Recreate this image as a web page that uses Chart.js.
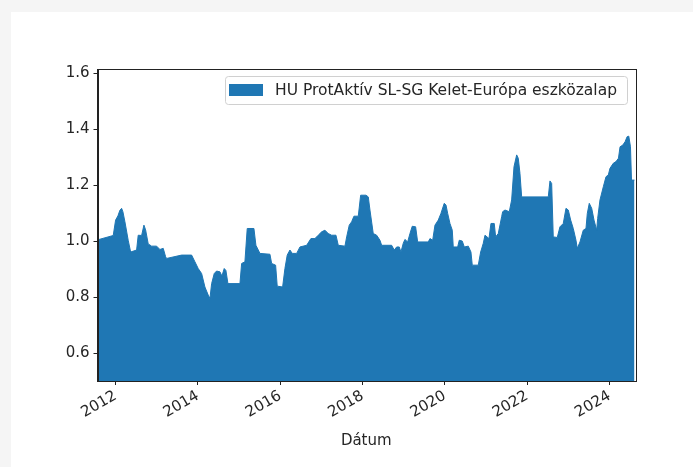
<!DOCTYPE html>
<html lang="hu">
<head>
    <meta charset="UTF-8">
    <title>HU ProtAktív SL-SG Kelet-Európa eszközalap</title>
    <script src="https://cdn.jsdelivr.net/npm/chart.js"></script>
    <style>
        body {
            margin: 0;
            background-color: #f5f5f5;
            font-family: "DejaVu Sans", sans-serif;
        }
        .card {
            position: absolute;
            left: 11px;
            top: 12px;
            right: 0;
            bottom: 0;
            background: #fff;
        }
        #fundChart {
            position: absolute;
            left: 0;
            top: 0;
        }
    </style>
</head>
<body>
    <div class="card"></div>
    <canvas id="fundChart" width="693" height="467"></canvas>

    <script>
        const seriesLabel = 'HU ProtAktív SL-SG Kelet-Európa eszközalap';

        // dates as decimal years
        const dates = [
            2011.577, 2011.942, 2012.000, 2012.056, 2012.104, 2012.146, 2012.177, 2012.226, 2012.306, 2012.365,
            2012.510, 2012.549, 2012.632, 2012.688, 2012.729, 2012.792, 2012.875, 2012.996, 2013.077, 2013.157,
            2013.215, 2013.239, 2013.604, 2013.847, 2013.927, 2014.007, 2014.090, 2014.170, 2014.250, 2014.292,
            2014.333, 2014.396, 2014.454, 2014.535, 2014.583, 2014.639, 2014.680, 2014.729, 2015.021, 2015.062,
            2015.142, 2015.198, 2015.361, 2015.409, 2015.507, 2015.750, 2015.791, 2015.888, 2015.927, 2016.058,
            2016.114, 2016.170, 2016.236, 2016.292, 2016.399, 2016.479, 2016.642, 2016.746, 2016.843, 2016.923,
            2017.006, 2017.086, 2017.166, 2017.249, 2017.354, 2017.410, 2017.572, 2017.614, 2017.677, 2017.735,
            2017.791, 2017.896, 2017.954, 2018.083, 2018.139, 2018.180, 2018.260, 2018.343, 2018.423, 2018.464,
            2018.707, 2018.770, 2018.829, 2018.892, 2018.933, 2018.989, 2019.030, 2019.096, 2019.152, 2019.208,
            2019.290, 2019.339, 2019.597, 2019.638, 2019.704, 2019.760, 2019.840, 2019.905, 2019.985, 2020.027,
            2020.068, 2020.124, 2020.180, 2020.204, 2020.311, 2020.350, 2020.423, 2020.472, 2020.569, 2020.634,
            2020.666, 2020.812, 2020.870, 2020.933, 2020.975, 2021.072, 2021.120, 2021.200, 2021.234, 2021.298,
            2021.380, 2021.404, 2021.461, 2021.565, 2021.623, 2021.680, 2021.745, 2021.784, 2021.825, 2021.866,
            2022.513, 2022.554, 2022.595, 2022.634, 2022.731, 2022.797, 2022.877, 2022.943, 2022.999, 2023.057,
            2023.120, 2023.186, 2023.218, 2023.283, 2023.363, 2023.429, 2023.461, 2023.509, 2023.568, 2023.624,
            2023.689, 2023.713, 2023.769, 2023.850, 2023.915, 2023.971, 2024.012, 2024.092, 2024.158, 2024.218,
            2024.257, 2024.323, 2024.379, 2024.428, 2024.469, 2024.510, 2024.535, 2024.607
        ];

        const values = [
            1.005, 1.020, 1.075, 1.090, 1.110, 1.117, 1.105, 1.069, 1.003, 0.961,
            0.968, 1.021, 1.020, 1.057, 1.040, 0.990, 0.982, 0.982, 0.970, 0.974,
            0.944, 0.938, 0.950, 0.950, 0.926, 0.902, 0.884, 0.836, 0.807, 0.795,
            0.848, 0.884, 0.893, 0.890, 0.875, 0.902, 0.895, 0.848, 0.848, 0.920,
            0.926, 1.045, 1.045, 0.985, 0.956, 0.953, 0.920, 0.914, 0.839, 0.836,
            0.902, 0.950, 0.968, 0.956, 0.956, 0.979, 0.985, 1.009, 1.009, 1.021,
            1.033, 1.039, 1.027, 1.021, 1.021, 0.985, 0.982, 1.015, 1.057, 1.069,
            1.089, 1.089, 1.164, 1.164, 1.158, 1.111, 1.027, 1.021, 1.003, 0.985,
            0.985, 0.968, 0.979, 0.979, 0.961, 0.992, 1.006, 0.997, 1.027, 1.053,
            1.051, 0.997, 0.997, 1.009, 1.003, 1.057, 1.075, 1.099, 1.135, 1.129,
            1.099, 1.063, 1.039, 0.979, 0.979, 1.003, 1.000, 0.979, 0.982, 0.961,
            0.914, 0.914, 0.961, 0.992, 1.021, 1.009, 1.063, 1.063, 1.015, 1.027,
            1.087, 1.105, 1.111, 1.105, 1.147, 1.266, 1.308, 1.296, 1.242, 1.158,
            1.158, 1.215, 1.206, 1.015, 1.013, 1.051, 1.063, 1.117, 1.111, 1.075,
            1.045, 1.003, 0.974, 0.997, 1.039, 1.045, 1.099, 1.135, 1.117, 1.075,
            1.039, 1.081, 1.147, 1.194, 1.230, 1.236, 1.260, 1.278, 1.284, 1.296,
            1.337, 1.343, 1.355, 1.373, 1.375, 1.337, 1.218, 1.218
        ];

        const xTicks = [2012, 2014, 2016, 2018, 2020, 2022, 2024];
        const yTicks = [0.6, 0.8, 1.0, 1.2, 1.4, 1.6];

        const textColor = '#262626';
        const tickFont = { family: 'DejaVu Sans', size: 15 };

        // matplotlib style frame around the plot
        const framePlugin = {
            id: 'frame',
            afterDatasetsDraw(chart) {
                const a = chart.chartArea;
                const c = chart.ctx;
                c.save();
                c.strokeStyle = '#222';
                c.lineWidth = 1;
                c.strokeRect(Math.round(a.left) + 0.5, Math.round(a.top) + 0.5,
                    Math.round(a.right - a.left), Math.round(a.bottom - a.top));
                c.restore();
            }
        };

        // legend inside the axes, upper right
        const boxLegend = {
            id: 'boxLegend',
            afterDraw(chart) {
                const a = chart.chartArea;
                const c = chart.ctx;
                const ds = chart.data.datasets[0];
                c.save();
                c.font = '15.5px "DejaVu Sans"';
                const tw = c.measureText(ds.label).width;
                const w = tw + 60, h = 28;
                const x = a.right - 8 - w, y = a.top + 7;
                c.beginPath();
                c.roundRect(x + 0.5, y + 0.5, w, h, 3);
                c.fillStyle = 'rgba(255,255,255,0.8)';
                c.fill();
                c.strokeStyle = '#d0d0d0';
                c.lineWidth = 1;
                c.stroke();
                c.fillStyle = ds.backgroundColor;
                c.fillRect(x + 4, y + 8, 34, 12);
                c.fillStyle = textColor;
                c.textBaseline = 'middle';
                c.fillText(ds.label, x + 50, y + h / 2 + 1);
                c.restore();
            }
        };

        new Chart(document.getElementById('fundChart'), {
            type: 'line',
            data: {
                datasets: [{
                    label: seriesLabel,
                    data: dates.map((d, i) => ({ x: d, y: values[i] })),
                    fill: 'start',
                    backgroundColor: '#1f77b4',
                    borderColor: '#1f77b4',
                    borderWidth: 1,
                    pointRadius: 0,
                    tension: 0
                }]
            },
            options: {
                responsive: false,
                animation: false,
                layout: { padding: { top: 69, right: 58, left: 0, bottom: 0 } },
                plugins: {
                    legend: { display: false },
                    tooltip: { enabled: false }
                },
                scales: {
                    x: {
                        type: 'linear',
                        min: 2011.56,
                        max: 2024.62,
                        afterBuildTicks: s => { s.ticks = xTicks.map(v => ({ value: v })); },
                        afterFit: s => { s.height = 86; },
                        ticks: {
                            minRotation: 30,
                            maxRotation: 30,
                            autoSkip: false,
                            padding: 2,
                            color: textColor,
                            font: tickFont,
                            callback: v => String(v)
                        },
                        grid: { drawOnChartArea: false, drawTicks: true, tickLength: 4, color: '#222' },
                        border: { color: '#222' },
                        title: {
                            display: true,
                            text: 'Dátum',
                            color: textColor,
                            font: tickFont,
                            padding: { top: 0, bottom: 17 }
                        }
                    },
                    y: {
                        min: 0.5,
                        max: 1.615,
                        afterBuildTicks: s => { s.ticks = yTicks.map(v => ({ value: v })); },
                        afterFit: s => { s.width = 97.5; },
                        ticks: {
                            padding: 4,
                            color: textColor,
                            font: tickFont,
                            callback: v => v.toFixed(1)
                        },
                        grid: { drawOnChartArea: false, drawTicks: true, tickLength: 4, color: '#222' },
                        border: { color: '#222' }
                    }
                }
            },
            plugins: [framePlugin, boxLegend]
        });
    </script>
</body>
</html>
